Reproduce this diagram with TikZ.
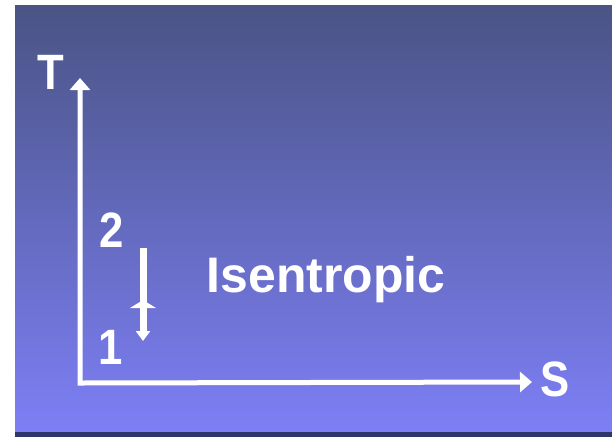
\documentclass[tikz,border=0pt]{standalone}
\usepackage{fontspec}
\setmainfont{Liberation Sans}
\usetikzlibrary{arrows.meta,decorations.markings}
\definecolor{bgtop}{RGB}{74,84,132}
\definecolor{bgmid}{RGB}{98,104,198}
\definecolor{bgbot}{RGB}{125,127,245}
\definecolor{bgedge}{RGB}{45,55,105}
\begin{document}
\begin{tikzpicture}[x=1pt,y=-1pt,
  lab/.style={text=white,font=\bfseries\fontsize{46}{46}\selectfont,inner sep=0pt},
  axisline/.style={white,line width=5pt,line join=miter,>={Triangle[width=20pt,length=12pt]},<->},
  procline/.style={white,line width=7pt,-{Triangle[width=14pt,length=10pt]},
    decoration={markings,mark=at position 0.56 with {\arrowreversed{Triangle[width=26pt,length=8pt]}}},
    postaction={decorate}}]
\useasboundingbox (0,0) rectangle (612,437);
\fill[white] (0,0) rectangle (612,437);
\shade[top color=bgtop,middle color=bgmid,bottom color=bgbot] (15,5) rectangle (612,432);
\fill[bgedge] (15,432) rectangle (612,437);
% axes
\coordinate (O) at (80,383);
\coordinate (Ttip) at (80,78);
\coordinate (Stip) at (532,382);
\draw[axisline] (Ttip) -- (O) -- (Stip);
\node[lab] (T) at (51,72) {\scalebox{0.95}[1.08]{T}};
\node[lab] (S) at (555,379) {\scalebox{0.95}[1.08]{S}};
% states
\node[lab] (n2) at (112,230) {\scalebox{0.95}[1.08]{2}};
\node[lab] (n1) at (111,347) {\scalebox{0.95}[1.08]{1}};
\coordinate (p2) at (143,248);
\coordinate (p1) at (143,341);
\draw[procline] (p2) -- (p1);
\node[lab,font=\bfseries\fontsize{48}{48}\selectfont,anchor=base] (iso) at (326,292) {\scalebox{1.04}[1.04]{Isentropic}};
\end{tikzpicture}
\end{document}
